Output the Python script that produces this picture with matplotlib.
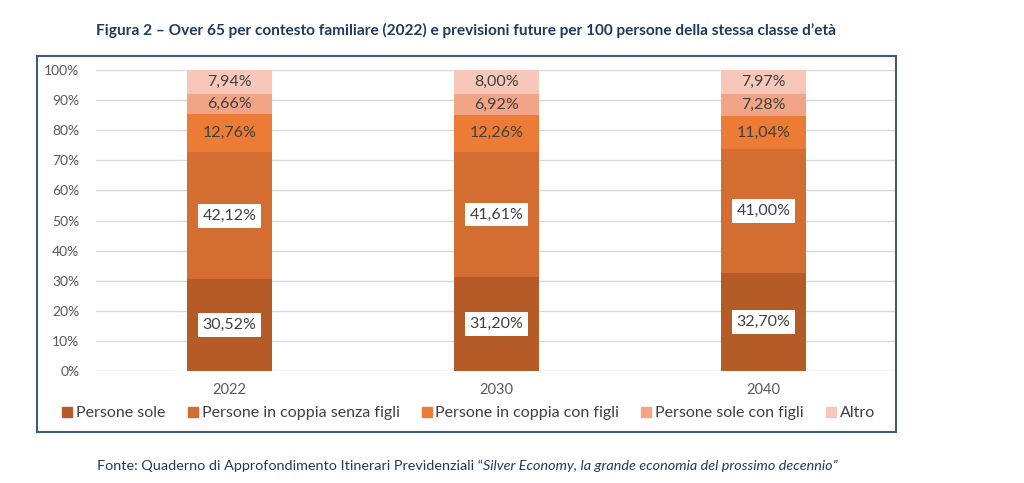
import matplotlib.pyplot as plt
import numpy as np
from matplotlib.patches import Rectangle
from matplotlib.lines import Line2D

plt.rcParams['font.family'] = ['Lato', 'DejaVu Sans']

anni = ["2022", "2030", "2040"]
categorie = [
    "Persone sole",
    "Persone in coppia senza figli",
    "Persone in coppia con figli",
    "Persone sole con figli",
    "Altro",
]
persone_sole = [30.52, 31.20, 32.70]
coppia_senza_figli = [42.12, 41.61, 41.00]
coppia_con_figli = [12.76, 12.26, 11.04]
sole_con_figli = [6.66, 6.92, 7.28]
altro = [7.94, 8.00, 7.97]

serie = [persone_sole, coppia_senza_figli, coppia_con_figli, sole_con_figli, altro]
colori = ["#B45B28", "#D36D31", "#EC7C35", "#F1A586", "#F7C8BA"]
testo_col = "#404040"

fig = plt.figure(figsize=(10.24, 4.83), dpi=100)
ax = fig.add_axes([96 / 1024, 112 / 483, 801 / 1024, 301 / 483])

x = np.arange(len(anni))
bottom = np.zeros(len(anni))
for i, (vals, col) in enumerate(zip(serie, colori)):
    vals = np.array(vals)
    ax.bar(x, vals, 0.315, bottom=bottom, color=col, zorder=2)
    for xi, b, v in zip(x, bottom, vals):
        label = f"{v:.2f}%".replace(".", ",")
        if i < 2:
            ax.text(xi, b + v / 2, label, ha="center", va="center",
                    fontsize=11.5, color=testo_col, zorder=3,
                    bbox=dict(facecolor="white", edgecolor="none", pad=3.5))
        else:
            ax.text(xi, b + v / 2, label, ha="center", va="center",
                    fontsize=11.5, color=testo_col, zorder=3)
    bottom += vals

ax.set_xlim(-0.5, 2.5)
ax.set_ylim(0, 100)
ax.set_yticks(np.arange(0, 101, 10))
ax.set_yticklabels([f"{v}%" for v in range(0, 101, 10)])
ax.set_xticks(x)
ax.set_xticklabels(anni)
ax.yaxis.grid(True, color="#D9D9D9", lw=1, zorder=0)
ax.tick_params(axis="both", length=0, labelcolor="#595959")
ax.tick_params(axis="y", labelsize=10, pad=12)
ax.tick_params(axis="x", labelsize=10.5, pad=9)
for s in ax.spines.values():
    s.set_visible(False)

handles = [Line2D([], [], marker="s", linestyle="none", markersize=7.5,
                  markerfacecolor=c, markeredgecolor=c) for c in colori]
fig.legend(handles, categorie, loc="center", bbox_to_anchor=(468 / 1024, 70 / 483),
           ncol=5, frameon=False, fontsize=11.5, handletextpad=0.15,
           columnspacing=1.3, labelcolor=testo_col, handlelength=0.8)

# cornice intorno al grafico
fig.patches.append(Rectangle((37 / 1024, 51 / 483), 859 / 1024, 376 / 483,
                             transform=fig.transFigure, fill=False,
                             edgecolor="#3E5B78", lw=1.5))

fig.text(466 / 1024, 1 - 30 / 483,
         "Figura 2 – Over 65 per contesto familiare (2022) e previsioni future per 100 persone della stessa classe d’età",
         ha="center", va="center", fontsize=11.1, fontweight="bold", color="#1F3B5C")

fig.text(97 / 1024, 1 - 466 / 483,
         "Fonte: Quaderno di Approfondimento Itinerari Previdenziali “",
         ha="left", va="center", fontsize=10.4, color="#1F3B5C")
t = fig.text(0, 0, "")
fig.canvas.draw()
r = fig.canvas.get_renderer()
prima = fig.texts[-2].get_window_extent(r)
t.set_text("Silver Economy, la grande economia del prossimo decennio”")
t.set_position((prima.x1 / 1024, 1 - 466 / 483))
t.set_ha("left")
t.set_va("center")
t.set_fontsize(10.4)
t.set_fontstyle("italic")
t.set_color("#1F3B5C")

fig.savefig("out.png", dpi=100)
